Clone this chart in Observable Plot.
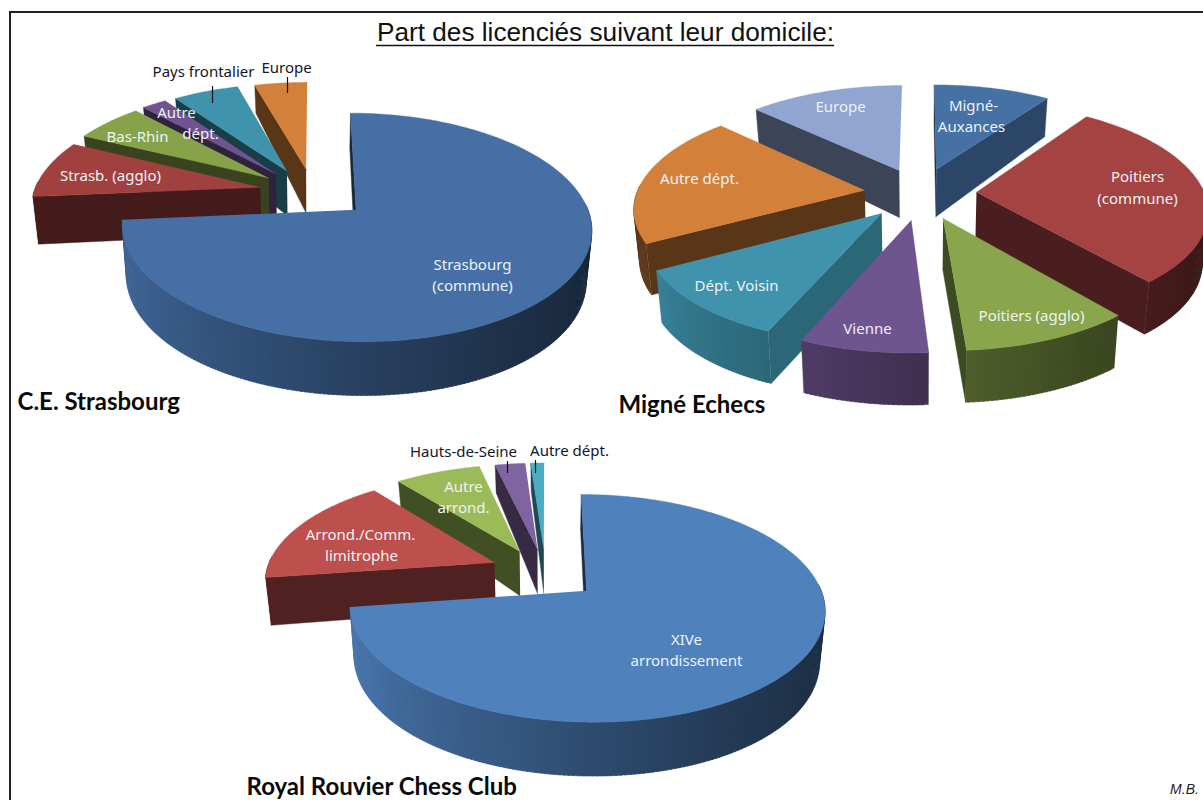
<!DOCTYPE html>
<html lang="fr"><head><meta charset="utf-8">
<script src="https://cdn.jsdelivr.net/npm/d3@7"></script>
<script src="https://cdn.jsdelivr.net/npm/@observablehq/plot@0.6"></script>
<style>html,body{margin:0;padding:0;background:#fff}svg{display:block}</style>
</head><body><div id="chart"></div>
<script>
// Data (% of members per home location)
const strasbourgNames = ["Strasbourg (commune)","Strasb. (agglo)","Bas-Rhin","Autre dépt.","Pays frontalier","Europe"];
const strasbourgValues = [73.6, 8.6, 5.8, 2.1, 5.5, 4.4];
const mignéNames = ["Migné-Auxances","Poitiers (commune)","Poitiers (agglo)","Vienne","Dépt. Voisin","Autre dépt.","Europe"];
const mignéValues = [9.7, 29.2, 10.0, 7.5, 10.6, 20.1, 12.9];
const rouvierNames = ["XIVe arrondissement","Arrond./Comm. limitrophe","Autre arrond.","Hauts-de-Seine","Autre dépt."];
const rouvierValues = [72.7, 16.6, 7.1, 2.5, 1.1];

const strasbourgColors = ["#456fa5","#a04140","#87a34a","#6f5490","#3f93ac","#d3803a"];
const mignéColors = ["#4571a5","#a54342","#8aa64c","#6f5590","#3f93ac","#d3813a","#90a5cf"];
const rouvierColors = ["#4f81bd","#bd4f4d","#9bbb59","#8064a2","#4bacc6"];

// Layout of each pie (not data): nudge = extra slice displacement in disc units
const pies = [
  {values:strasbourgValues,colors:strasbourgColors,cx:314,cy:191,rx:226,ry:106,e:.22,k:.15,d:47,a:11,b:4.4,
   nudge:[[.017,-.02],[-.025,0],[-.03,0],[-.035,0],[-.03,0],[-.008,0]]},
  {values:mignéValues,colors:mignéColors,cx:920.5,cy:193,rx:228,ry:104,e:.25,k:.15,d:49,a:6.6,b:3.35,
   nudge:[[-.006,0],[-.006,0],[0,0],[0,0],[0,0],[0,0],[0,0]]},
  {values:rouvierValues,colors:rouvierColors,cx:546,cy:570,rx:228,ry:105,e:.21,k:.15,d:47,a:11,b:4.4,
   nudge:[[.012,-.05],[-.035,0],[-.03,0],[-.01,0],[-.005,0]]}
];

// Text lines placed on the picture
const whiteLabels = [
  ["Strasbourg",472,265],["(commune)",472,286],["Strasb. (agglo)",110,176],["Bas-Rhin",137,137],["Autre",176,113],["dépt.",200,134],
  ["Migné-",973,106],["Auxances",971,127],["Poitiers",1137,177],["(commune)",1137,199],["Poitiers (agglo)",1031,316],
  ["Vienne",867,329],["Dépt. Voisin",736,286],["Autre dépt.",699,179],["Europe",840,107],
  ["Arrond./Comm.",360,535],["limitrophe",361,556],["Autre",463,487],["arrond.",463,508],["XIVe",686,640],["arrondissement",686,661]
];
const darkLabels = [["Pays frontalier",203,72],["Europe",286,68],["Hauts-de-Seine",463,452],["Autre dépt.",569,451]];
const leaders = [[212,86,103],[287,77,93],[507,461,473],[535,460,473]];
const clubTitles = [["C.E. Strasbourg",17,402],["Migné Echecs",618,405],["Royal Rouvier Chess Club",246,787]];

const rad = Math.PI/180;
const darken = (c,f) => d3.interpolateRgb("#000",c)(f);
const shade = d3.scaleLinear([90,120,150,180,203,225,241,270],[.36,.37,.45,.58,.7,.8,.88,.9]).clamp(true);
function buildFaces(p, idBase){
  const arcs = d3.pie().sort(null).startAngle(0).endAngle(2*Math.PI)(p.values);
  const order = d3.range(arcs.length).sort((a,b)=>
    Math.cos((arcs[b].startAngle+arcs[b].endAngle)/2)-Math.cos((arcs[a].startAngle+arcs[a].endAngle)/2));
  const rows=[]; let id=idBase;
  const project=(X,Y,low)=>{
    const s=1/(1+p.k*Y);
    let x=p.rx*X*s, y=-p.ry*Y*s;
    if(low){ x*=.98; y+=p.d-p.a*Y-p.b*Y*Y; }
    return [p.cx+x,p.cy+y];
  };
  const face=(pts,fill)=>{ id++; for(const [x,y] of pts) rows.push({x,y,z:id,fill}); };
  for(const i of order){
    const a=arcs[i], base=p.colors[i], mid=(a.startAngle+a.endAngle)/2;
    const ox=p.e*Math.sin(mid)+p.nudge[i][0], oy=p.e*Math.cos(mid)+p.nudge[i][1];
    const pt=th=>[ox+Math.sin(th),oy+Math.cos(th)];
    const wall=(th,f)=>{
      const [X,Y]=pt(th);
      face([project(ox,oy),project(X,Y),project(X,Y,true),project(ox,oy,true)],darken(base,f));
    };
    const t0=a.startAngle/rad, t1=a.endAngle/rad;
    if(Math.sin(a.startAngle)<=1e-6) wall(a.startAngle,t0>=235?.42:shade(t0));
    if(Math.sin(a.endAngle)>1e-6) wall(a.endAngle,t1<90?.62:.45);
    const steps=Math.max(1,Math.ceil(t1-t0));
    const dA=(a.endAngle-a.startAngle)/steps;
    for(let j=0;j<steps;j++){
      const u=a.startAngle+dA*j, v=u+dA*(j<steps-1?1.6:1);
      if(Math.cos(u+dA/2)>.05) continue;
      const [X0,Y0]=pt(u),[X1,Y1]=pt(v);
      const f=t0>=235?.44:shade((u+dA/2)/rad);
      face([project(X0,Y0),project(X1,Y1),project(X1,Y1,true),project(X0,Y0,true)],darken(base,f));
    }
    const top=[project(ox,oy)];
    for(let j=0;j<=steps;j++){
      const [X,Y]=pt(a.startAngle+dA*j);
      top.push(project(X,Y));
    }
    face(top,base);
  }
  return rows;
}
let rows=[]; pies.forEach((p,i)=>{rows=rows.concat(buildFaces(p,(i+1)*10000));});

const row = a => ({t:a[0],x:a[1],y:a[2]});
const title="Part des licenciés suivant leur domicile:";
const chart = Plot.plot({
  width:1203,height:800,margin:0,
  x:{domain:[0,1203],range:[0,1203],axis:null},
  y:{domain:[0,800],range:[0,800],axis:null},
  color:{type:"identity"},
  marks:[
    Plot.ruleX([9.5],{y1:11,y2:800,stroke:"#222",strokeWidth:2}),
    Plot.ruleY([11.5],{x1:9,x2:1203,stroke:"#222",strokeWidth:2}),
    Plot.line(rows,{x:"x",y:"y",z:"z",fill:"fill",stroke:"fill",strokeWidth:.4,curve:"linear"}),
    Plot.text(whiteLabels.map(row),{x:"x",y:"y",text:"t",fill:"#eef1f6",fontFamily:"Noto Sans",fontSize:15}),
    Plot.text(darkLabels.map(row),{x:"x",y:"y",text:"t",fill:"#141428",fontFamily:"Noto Sans",fontSize:15}),
    Plot.ruleX(leaders,{x:d=>d[0],y1:d=>d[1],y2:d=>d[2],stroke:"#111",strokeWidth:1.2}),
    Plot.text(clubTitles.map(row),{x:"x",y:"y",text:"t",textAnchor:"start",fill:"#0a0a0a",fontFamily:"Lato",fontWeight:"bold",fontSize:24}),
    Plot.text([title],{x:()=>605,y:()=>32,text:d=>d,fontFamily:"Liberation Sans",fontSize:26.2,fill:"#111"}),
    Plot.ruleY([45],{x1:376,x2:834,stroke:"#111",strokeWidth:1.3}),
    Plot.text(["M.B."],{x:()=>1184,y:()=>789,text:d=>d,fontFamily:"Liberation Sans",fontStyle:"italic",fontSize:14,fill:"#222"})
  ]
});
document.getElementById("chart").append(chart);
</script></body></html>
